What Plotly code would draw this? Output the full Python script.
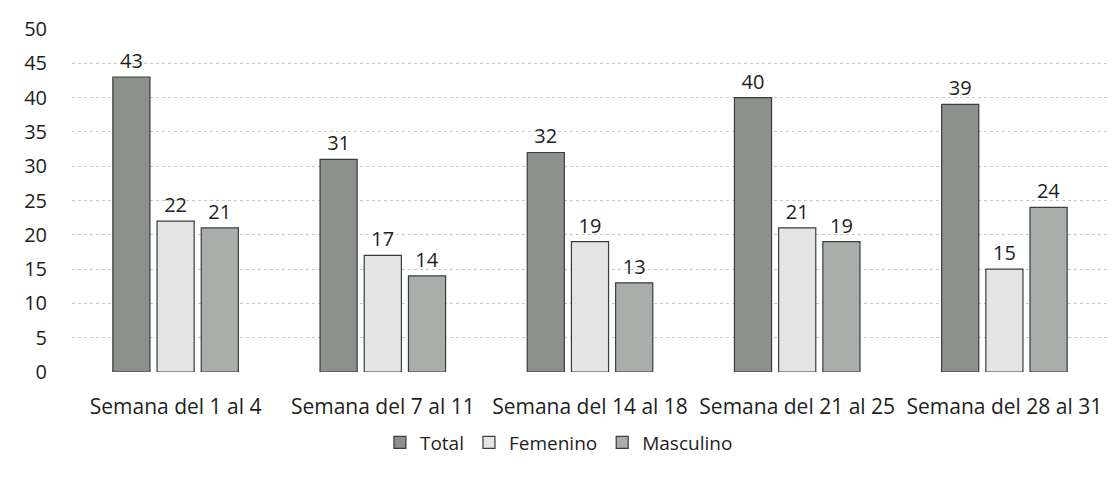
import plotly.graph_objects as go

categories = ["Semana del 1 al 4", "Semana del 7 al 11", "Semana del 14 al 18",
              "Semana del 21 al 25", "Semana del 28 al 31"]
total = [43, 31, 32, 40, 39]
femenino = [22, 17, 19, 21, 15]
masculino = [21, 14, 13, 19, 24]
y_ticks = [0, 5, 10, 15, 20, 25, 30, 35, 40, 45, 50]

series = [
    ("Total", total, "#8c918e"),
    ("Femenino", femenino, "#e4e4e4"),
    ("Masculino", masculino, "#a9aeab"),
]

fig = go.Figure()
for name, vals, color in series:
    fig.add_trace(go.Bar(
        name=name, x=categories, y=vals,
        marker=dict(color=color, line=dict(color="#3a3d3b", width=1.2)),
        text=vals, textposition="outside", cliponaxis=False,
        textfont=dict(size=20, color="#1e1e1e"),
    ))

fig.update_layout(
    width=1107, height=484,
    paper_bgcolor="white", plot_bgcolor="white",
    margin=dict(l=64, r=7, t=12, b=120),
    barmode="group", bargap=0.36, bargroupgap=0.16,
    font=dict(family="Open Sans, Lato, sans-serif", size=20, color="#1e1e1e"),
    showlegend=True,
    legend=dict(orientation="h", x=0.47, xanchor="center", y=-0.15, yanchor="top",
                font=dict(size=19), traceorder="normal"),
    xaxis=dict(showline=False, ticks="", tickfont=dict(size=21),
               ticklabelstandoff=20),
    yaxis=dict(range=[0, 50], tickvals=y_ticks, showgrid=True,
               gridcolor="#c8c8c8", griddash="dot", gridwidth=1,
               zeroline=False, showline=False, tickfont=dict(size=20),
               ticklabelstandoff=24, ticklabeloverflow="allow"),
)

fig.write_html("out.html")
